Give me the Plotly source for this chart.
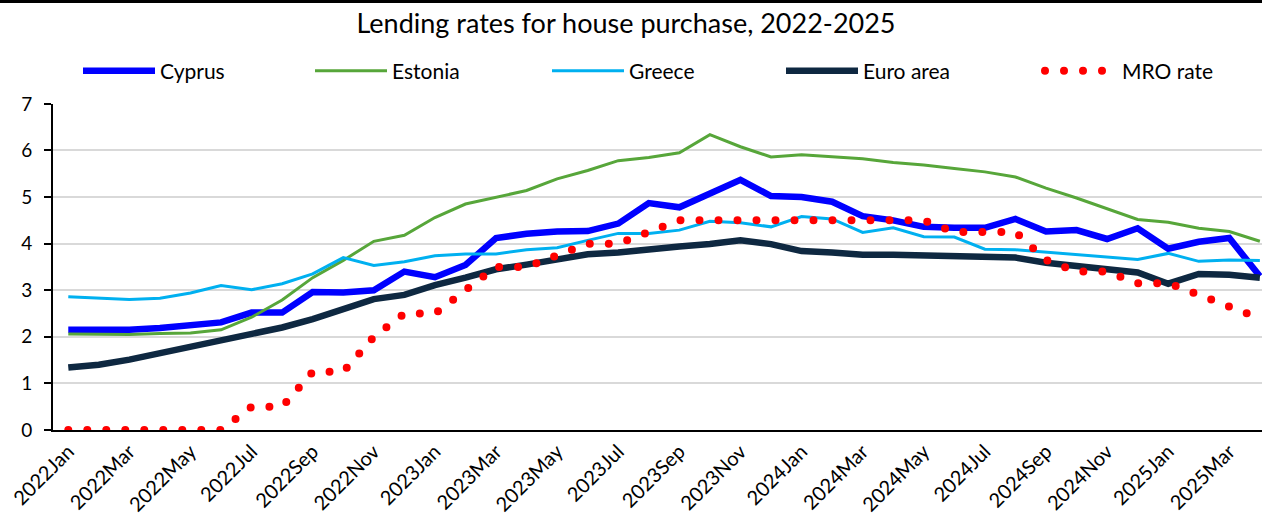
import plotly.graph_objects as go

# Monthly observations, January 2022 to April 2025
month_names = ["Jan", "Feb", "Mar", "Apr", "May", "Jun",
               "Jul", "Aug", "Sep", "Oct", "Nov", "Dec"]
months = [f"{y}{m}" for y in (2022, 2023, 2024, 2025) for m in month_names][:40]
tick_labels = months[::2]

# Lending rates for house purchase (%)
cyprus = [2.15, 2.14, 2.15, 2.19, 2.25, 2.31, 2.52, 2.52, 2.96, 2.95,
          3.00, 3.40, 3.28, 3.54, 4.12, 4.21, 4.26, 4.27, 4.43, 4.87,
          4.78, 5.08, 5.37, 5.02, 5.00, 4.90, 4.59, 4.50, 4.36, 4.34,
          4.34, 4.53, 4.26, 4.29, 4.10, 4.33, 3.89, 4.04, 4.12, 3.30]
estonia = [2.06, 2.05, 2.05, 2.07, 2.08, 2.15, 2.42, 2.79, 3.27, 3.64,
           4.05, 4.18, 4.56, 4.85, 4.99, 5.14, 5.39, 5.57, 5.78, 5.85,
           5.95, 6.34, 6.08, 5.86, 5.91, 5.87, 5.82, 5.74, 5.69, 5.61,
           5.54, 5.43, 5.19, 4.98, 4.75, 4.52, 4.46, 4.33, 4.26, 4.05]
greece = [2.86, 2.83, 2.80, 2.83, 2.94, 3.10, 3.01, 3.14, 3.35, 3.70,
          3.53, 3.61, 3.74, 3.78, 3.78, 3.87, 3.91, 4.07, 4.22, 4.22,
          4.29, 4.48, 4.45, 4.36, 4.58, 4.53, 4.24, 4.34, 4.15, 4.14,
          3.88, 3.87, 3.82, 3.77, 3.72, 3.66, 3.79, 3.62, 3.65, 3.64]
euro_area = [1.34, 1.40, 1.51, 1.65, 1.79, 1.94, 2.08, 2.20, 2.38, 2.60,
             2.81, 2.90, 3.11, 3.27, 3.45, 3.55, 3.66, 3.77, 3.81, 3.89,
             3.94, 3.99, 4.07, 3.99, 3.84, 3.81, 3.76, 3.76, 3.75, 3.73,
             3.71, 3.70, 3.59, 3.51, 3.45, 3.38, 3.14, 3.35, 3.33, 3.27]
# ECB main refinancing operations rate, end of month (%)
mro_rate = [0, 0, 0, 0, 0, 0, 0.50, 0.50, 1.25, 1.25,
            2.00, 2.50, 2.50, 3.00, 3.50, 3.50, 3.75, 4.00, 4.00, 4.25,
            4.50, 4.50, 4.50, 4.50, 4.50, 4.50, 4.50, 4.50, 4.50, 4.25,
            4.25, 4.25, 3.65, 3.40, 3.40, 3.15, 3.15, 2.90, 2.65, 2.40]

FONT = "Lato, 'Open Sans', sans-serif"
W, H = 1262, 526

series = [
    ("Cyprus", cyprus, dict(color="#0000FF", width=6.5), "legend", 78),
    ("Estonia", estonia, dict(color="#57A63A", width=3), "legend2", 310),
    ("Greece", greece, dict(color="#00B0F0", width=3), "legend3", 547),
    ("Euro area", euro_area, dict(color="#0E2841", width=6.5), "legend4", 781),
    ("MRO rate", mro_rate, dict(color="#FF0000", width=8, dash="0px,19px"), "legend5", 1040),
]

fig = go.Figure()
legends = {}
for name, values, line, leg, lx in series:
    fig.add_trace(go.Scatter(x=months, y=values, name=name, mode="lines",
                             line=line, legend=leg, hoverinfo="skip"))
    legends[leg] = dict(
        orientation="h", xref="container", yref="container",
        x=lx / W, y=1 - 71 / H, xanchor="left", yanchor="middle",
        font=dict(family=FONT, size=21, color="black"),
        bgcolor="rgba(0,0,0,0)", itemwidth=72,
    )

fig.update_layout(
    width=W, height=H, autosize=False,
    margin=dict(l=53, r=0, t=102, b=96, pad=0),
    paper_bgcolor="white", plot_bgcolor="white",
    font=dict(family=FONT, color="black"),
    title=dict(text="Lending rates for house purchase, 2022-2025",
               font=dict(family=FONT, size=27, color="black"),
               xref="container", yref="container",
               x=626 / W, y=1 - 24 / H, xanchor="center", yanchor="middle"),
    showlegend=True,
    **legends,
)

fig.update_xaxes(
    type="category", categoryorder="array", categoryarray=months,
    range=[-0.5, 39.07], tickvals=tick_labels, ticktext=tick_labels,
    tickangle=-45, tickfont=dict(family=FONT, size=20, color="black"),
    showgrid=False, showline=True, linecolor="black", linewidth=2,
    ticks="", zeroline=False,
)
fig.update_yaxes(
    range=[0, 7], dtick=1, tickfont=dict(family=FONT, size=19, color="black"),
    showgrid=True, gridcolor="#D9D9D9", gridwidth=2,
    showline=True, linecolor="black", linewidth=2,
    ticks="outside", ticklen=7, tickwidth=2, tickcolor="black",
    ticklabelstandoff=8, zeroline=False,
)

# round caps turn the dotted MRO line into round dots; dark rule along the top edge
post = """
var st = document.createElement('style');
st.textContent = 'path.js-line[style*="255, 0, 0"]{stroke-linecap:round !important;}';
document.head.appendChild(st);
var bar = document.createElement('div');
bar.style.cssText = 'position:fixed;top:0;left:0;width:100%;height:3px;background:#000;z-index:10;';
document.body.appendChild(bar);
"""
fig.write_html("out.html", post_script=post)
